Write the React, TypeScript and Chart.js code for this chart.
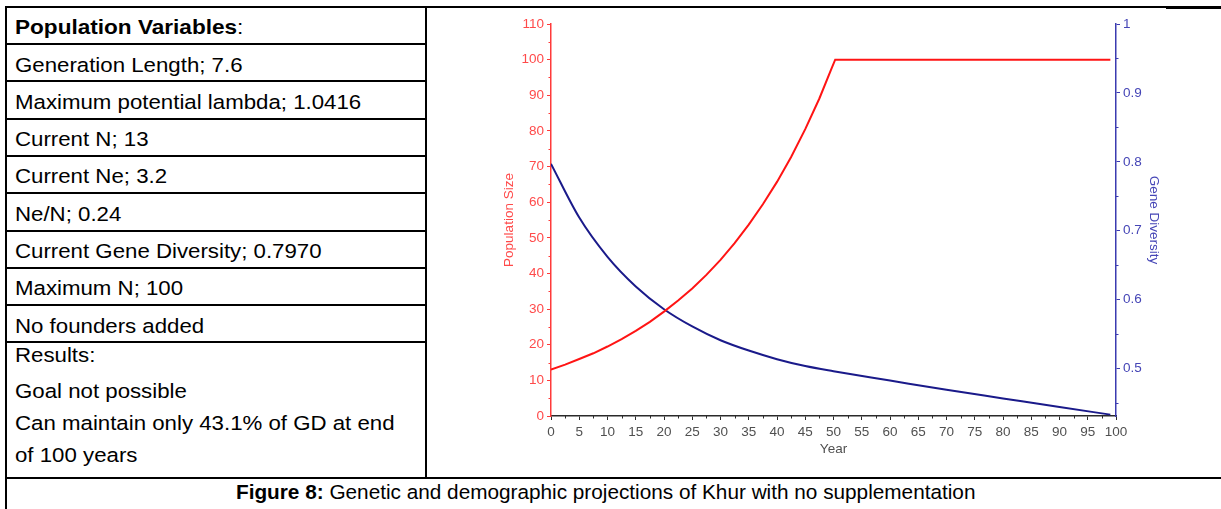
import React, { useEffect, useLayoutEffect, useRef } from "react";
import { Chart, registerables } from "chart.js";

Chart.register(...registerables);

// ---------- data ----------
const POP_YEARS = [0, 2.5, 5, 7.5, 10, 12.5, 15, 17.5, 20, 22.5, 25, 27.5, 30, 32.5, 35, 37.5, 40, 42.5, 45, 47.5, 49.5, 50.3, 99];
const POPULATION_SIZE = [13, 14.4, 16, 17.6, 19.5, 21.6, 23.9, 26.4, 29.3, 32.4, 35.8, 39.6, 43.8, 48.5, 53.7, 59.4, 65.7, 72.7, 80.5, 89.1, 96.9, 100, 100];
const GD_YEARS = [0, 5, 10, 15, 20, 25, 30, 35, 40, 45, 50, 60, 70, 80, 90, 99];
const GENE_DIVERSITY = [0.797, 0.719, 0.662, 0.619, 0.586, 0.561, 0.541, 0.526, 0.5135, 0.5035, 0.496, 0.4825, 0.469, 0.4565, 0.444, 0.433];

const YEAR_TICKS = [0, 5, 10, 15, 20, 25, 30, 35, 40, 45, 50, 55, 60, 65, 70, 75, 80, 85, 90, 95, 100];
const YEAR_MINOR_TICKS = [2.5, 7.5, 12.5, 17.5, 22.5, 27.5, 32.5, 37.5, 42.5, 47.5, 52.5, 57.5, 62.5, 67.5, 72.5, 77.5, 82.5, 87.5, 92.5, 97.5];
const POP_TICKS = [0, 10, 20, 30, 40, 50, 60, 70, 80, 90, 100, 110];
const POP_MINOR_TICKS = [5, 15, 25, 35, 45, 55, 65, 75, 85, 95, 105];
const GD_TICKS = [0.5, 0.6, 0.7, 0.8, 0.9, 1];
const GD_MINOR_TICKS = [0.45, 0.55, 0.65, 0.75, 0.85, 0.95];
const POP_MIN = 0;
const POP_MAX = 110;
const GD_MIN = 0.431;
const GD_MAX = 1;
const YEAR_MIN = 0;
const YEAR_MAX = 100;

const HEADER_BOLD = "Population Variables";
const TABLE_ROWS = [
  "Generation Length; 7.6",
  "Maximum potential lambda; 1.0416",
  "Current N; 13",
  "Current Ne; 3.2",
  "Ne/N; 0.24",
  "Current Gene Diversity; 0.7970",
  "Maximum N; 100",
  "No founders added",
];
const RESULT_LINES = [
  "Results:",
  "Goal not possible",
  "Can maintain only 43.1% of GD at end",
  "of 100 years",
];
const CAPTION_BOLD = "Figure 8:";
const CAPTION_TEXT = " Genetic and demographic projections of Khur with no supplementation";

// ---------- styles ----------
const RED_AXIS = "#ff3a3a";
const RED_TEXT = "#ff4a4a";
const RED_LINE = "#ff1414";
const BLUE_AXIS = "#3b3bb0";
const BLUE_TEXT = "#4545b6";
const BLUE_LINE = "#1a1a8a";
const X_AXIS = "#2a2a2a";
const X_TEXT = "#505050";
const CHART_FONT = "'Liberation Sans', Arial, sans-serif";
const TABLE_FONT = "'Liberation Sans', Arial, sans-serif";

const minorTicksPlugin = {
  id: "minorTicks",
  afterDraw(chart: any, _args: any, opts: any) {
    const { ctx, scales } = chart;
    ctx.save();
    ctx.lineWidth = 1;
    const specs = [
      { id: "x", values: YEAR_MINOR_TICKS, color: X_AXIS },
      { id: "y", values: POP_MINOR_TICKS, color: RED_AXIS },
      { id: "y1", values: GD_MINOR_TICKS, color: BLUE_AXIS },
    ];
    const len = opts && opts.length ? opts.length : 2.5;
    for (const s of specs) {
      const scale = scales[s.id];
      if (!scale) continue;
      ctx.strokeStyle = s.color;
      ctx.beginPath();
      for (const v of s.values) {
        const p = scale.getPixelForValue(v);
        if (s.id === "x") {
          ctx.moveTo(Math.round(p) + 0.5, scale.top);
          ctx.lineTo(Math.round(p) + 0.5, scale.top + len);
        } else if (s.id === "y") {
          ctx.moveTo(scale.right, Math.round(p) + 0.5);
          ctx.lineTo(scale.right - len, Math.round(p) + 0.5);
        } else {
          ctx.moveTo(scale.left, Math.round(p) + 0.5);
          ctx.lineTo(scale.left + len, Math.round(p) + 0.5);
        }
      }
      ctx.stroke();
    }
    ctx.restore();
  },
};

function fmt(v: number) {
  return String(Number(v.toFixed(2)));
}

function ProjectionChart() {
  const ref = useRef<HTMLCanvasElement | null>(null);
  useEffect(() => {
    if (!ref.current) return;
    const tickFont = { family: CHART_FONT, size: 13.5 };
    const titleFont = { family: CHART_FONT, size: 13.5 };
    const chart = new Chart(ref.current, {
      type: "line",
      data: {
        datasets: [
          {
            label: "Population Size",
            data: POP_YEARS.map((x, i) => ({ x, y: POPULATION_SIZE[i] })),
            yAxisID: "y",
            borderColor: RED_LINE,
            borderWidth: 2,
            pointRadius: 0,
            tension: 0,
            fill: false,
          },
          {
            label: "Gene Diversity",
            data: GD_YEARS.map((x, i) => ({ x, y: GENE_DIVERSITY[i] })),
            yAxisID: "y1",
            borderColor: BLUE_LINE,
            borderWidth: 2,
            pointRadius: 0,
            cubicInterpolationMode: "monotone",
            fill: false,
          },
        ],
      },
      options: {
        animation: false,
        responsive: false,
        maintainAspectRatio: false,
        layout: { padding: { top: 14, left: 0, right: 0, bottom: 0 } },
        plugins: {
          legend: { display: false },
          tooltip: { enabled: false },
          minorTicks: { length: 2.5 },
        } as any,
        scales: {
          x: {
            type: "linear",
            position: "bottom",
            min: YEAR_MIN,
            max: YEAR_MAX,
            afterBuildTicks: (s: any) => {
              s.ticks = YEAR_TICKS.map((value) => ({ value }));
            },
            afterFit: (s: any) => {
              s.height = 54;
            },
            ticks: {
              autoSkip: false,
              maxRotation: 0,
              padding: 4,
              color: X_TEXT,
              font: tickFont,
              callback: (v: any) => fmt(Number(v)),
            },
            grid: { drawOnChartArea: false, tickLength: 4, color: X_AXIS, tickWidth: 1 },
            border: { display: true, color: X_AXIS, width: 1.5 },
            title: {
              display: true,
              text: "Year",
              color: X_TEXT,
              font: titleFont,
              padding: { top: 0, bottom: 13 },
            },
          },
          y: {
            type: "linear",
            position: "left",
            min: POP_MIN,
            max: POP_MAX,
            afterBuildTicks: (s: any) => {
              s.ticks = POP_TICKS.map((value) => ({ value }));
            },
            afterFit: (s: any) => {
              s.width = 121;
            },
            ticks: {
              autoSkip: false,
              padding: 3,
              color: RED_TEXT,
              font: tickFont,
              callback: (v: any) => fmt(Number(v)),
            },
            grid: { drawOnChartArea: false, tickLength: 4, color: RED_AXIS, tickWidth: 1 },
            border: { display: true, color: RED_AXIS, width: 1.5 },
            title: {
              display: true,
              text: "Population Size",
              color: RED_TEXT,
              font: titleFont,
              padding: { top: 71, bottom: 0 },
            },
          },
          y1: {
            type: "linear",
            position: "right",
            min: GD_MIN,
            max: GD_MAX,
            afterBuildTicks: (s: any) => {
              s.ticks = GD_TICKS.map((value) => ({ value }));
            },
            afterFit: (s: any) => {
              s.width = 94;
            },
            ticks: {
              autoSkip: false,
              padding: 3,
              color: BLUE_TEXT,
              font: tickFont,
              callback: (v: any) => fmt(Number(v)),
            },
            grid: { drawOnChartArea: false, tickLength: 4, color: BLUE_AXIS, tickWidth: 1 },
            border: { display: true, color: BLUE_AXIS, width: 1.5 },
            title: {
              display: true,
              text: "Gene Diversity",
              color: BLUE_TEXT,
              font: titleFont,
              padding: { top: 48, bottom: 0 },
            },
          },
        },
      } as any,
      plugins: [minorTicksPlugin],
    });
    return () => chart.destroy();
  }, []);
  return (
    <canvas
      ref={ref}
      width={780}
      height={460}
      style={{ position: "absolute", left: 430, top: 10, width: 780, height: 460 }}
    />
  );
}

const ROW_PITCH = 37.3;
const FIRST_BASELINE = 34.3;
const TEXT_SIZE = 20.5;
const LINE_BOX = 24;
const BASELINE_IN_BOX = 19.1;
const TEXT_SCALE = 1.085;

// text line that is horizontally fitted to a width measured on the reference
function FitLine({ left, baseline, width, children }: { left: number; baseline: number; width: number; children: any }) {
  const ref = useRef<HTMLSpanElement | null>(null);
  useLayoutEffect(() => {
    const el = ref.current;
    if (!el) return;
    const w = el.offsetWidth;
    if (w > 0) el.style.transform = `scaleX(${width / w})`;
  }, [width]);
  return (
    <span
      ref={ref}
      style={{
        position: "absolute",
        left,
        top: baseline - BASELINE_IN_BOX,
        height: LINE_BOX,
        lineHeight: LINE_BOX + "px",
        fontSize: TEXT_SIZE,
        whiteSpace: "nowrap",
        color: "#000",
        display: "inline-block",
        transformOrigin: "left center",
      }}
    >
      {children}
    </span>
  );
}

function line(left: number, top: number, width: number, height: number, key: string) {
  return (
    <div
      key={key}
      style={{ position: "absolute", left, top, width, height, background: "#000" }}
    />
  );
}

export default function App() {
  const textStyle = (baseline: number): React.CSSProperties => ({
    position: "absolute",
    left: 15,
    top: baseline - BASELINE_IN_BOX,
    height: LINE_BOX,
    lineHeight: LINE_BOX + "px",
    fontSize: TEXT_SIZE,
    whiteSpace: "nowrap",
    color: "#000",
    transform: `scaleX(${TEXT_SCALE})`,
    transformOrigin: "left center",
  });
  const rowLines = [];
  for (let k = 1; k <= 9; k++) {
    rowLines.push(line(5, Math.round(43 + ROW_PITCH * (k - 1)), 422, 2, "r" + k));
  }
  const resultBaselines = [361.7, 398.3, 430, 461.7];
  return (
    <div
      style={{
        position: "absolute",
        left: 0,
        top: 0,
        width: 1221,
        height: 509,
        overflow: "hidden",
        background: "#fff",
        fontFamily: TABLE_FONT,
      }}
    >
      <ProjectionChart />
      {line(5, 6, 1216, 2, "top")}
      {line(1166, 6, 55, 3, "topR")}
      {line(5, 6, 2, 503, "left")}
      {line(425, 6, 2, 472, "mid")}
      {rowLines}
      {line(5, 477, 1216, 2, "cap")}
      <FitLine left={15} baseline={FIRST_BASELINE} width={228}>
        <b>{HEADER_BOLD}</b>:
      </FitLine>
      {TABLE_ROWS.map((t, i) => (
        <div key={t} style={textStyle(FIRST_BASELINE + ROW_PITCH * (i + 1))}>
          {t}
        </div>
      ))}
      {RESULT_LINES.map((t, i) => (
        <div key={t} style={textStyle(resultBaselines[i])}>
          {t}
        </div>
      ))}
      <FitLine left={236} baseline={499.5} width={739}>
        <b>{CAPTION_BOLD}</b>
        {CAPTION_TEXT}
      </FitLine>
    </div>
  );
}
